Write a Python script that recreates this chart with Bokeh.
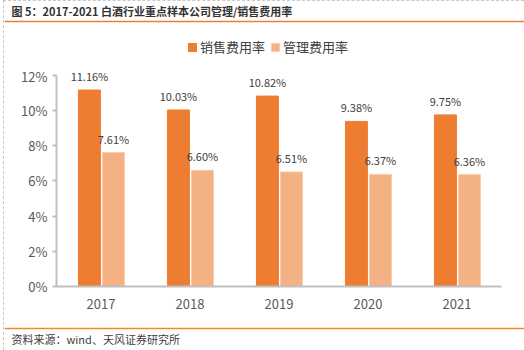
from bokeh.plotting import figure
from bokeh.layouts import column
from bokeh.models import (ColumnDataSource, FactorRange, Range1d, FixedTicker,
                          PrintfTickFormatter, LabelSet, Legend, LegendItem)
from bokeh.core.properties import value
from bokeh.transform import dodge
from bokeh.embed import file_html
from bokeh.resources import INLINE

years = ["2017", "2018", "2019", "2020", "2021"]
sales_rate = [11.16, 10.03, 10.82, 9.38, 9.75]
admin_rate = [7.61, 6.60, 6.51, 6.37, 6.36]
series_names = ["销售费用率", "管理费用率"]
y_ticks = [0, 2, 4, 6, 8, 10, 12]
title_text = "图 5：2017-2021 白酒行业重点样本公司管理/销售费用率"
source_text = "资料来源：wind、天风证券研究所"

ORANGE = "#ED7D31"
LIGHT = "#F4B183"
FONT = "Noto Sans CJK SC"
W = 520


def blank(h, y0, y1):
    f = figure(width=W, height=h, x_range=Range1d(4, 524), y_range=Range1d(y0, y1),
               output_backend="svg", toolbar_location=None, min_border=0,
               x_axis_location=None, y_axis_location=None, title=None,
               frame_align=False)
    f.grid.visible = False
    f.outline_line_color = None
    return f


# ---------- header: title, rule, legend ----------
top = blank(65, 66, 1)
top.text(x=[11], y=[10], text=[title_text], text_font=value(FONT),
         text_font_size="11px", text_font_style="bold", text_color="#333333",
         text_baseline="middle", text_align="left")
top.segment(x0=[4], y0=[21], x1=[524], y1=[21], line_color=ORANGE, line_width=1.5)
# hidden swatch renderers (outside the visible range) that feed the legend
d1 = top.vbar(x=[-1000], top=[-1000], width=1, fill_color=ORANGE, line_color=ORANGE)
d2 = top.vbar(x=[-1000], top=[-1000], width=1, fill_color=LIGHT, line_color="#F8CBAD")
legend = Legend(items=[LegendItem(label=series_names[0], renderers=[d1]),
                       LegendItem(label=series_names[1], renderers=[d2])],
                orientation="horizontal", location=(183, 10),
                border_line_color=None, background_fill_alpha=0,
                padding=0, margin=0, spacing=5, label_standoff=3,
                glyph_width=10, glyph_height=10, label_height=14,
                label_text_font=FONT, label_text_font_size="13px",
                label_text_color="#404040")
top.add_layout(legend, "center")

# ---------- main chart ----------
src = ColumnDataSource(dict(
    year=years,
    sales=sales_rate,
    admin=admin_rate,
    sales_lbl=["%.2f%%" % v for v in sales_rate],
    admin_lbl=["%.2f%%" % v for v in admin_rate],
))

p = figure(width=W, height=252, x_range=FactorRange(*years, range_padding=0),
           y_range=Range1d(0, 12.5), output_backend="svg", toolbar_location=None,
           min_border_left=52, min_border_right=23, min_border_top=0,
           min_border_bottom=32, title=None, frame_align=False)
p.outline_line_color = None
p.grid.visible = False

r1 = p.vbar(x=dodge("year", -0.13, range=p.x_range), top="sales", width=0.247,
            source=src, fill_color=ORANGE, line_color=ORANGE)
r2 = p.vbar(x=dodge("year", 0.14, range=p.x_range), top="admin", width=0.247,
            source=src, fill_color=LIGHT, line_color="#F8CBAD")

for fld, top_f, off in (("sales_lbl", "sales", -0.13), ("admin_lbl", "admin", 0.14)):
    p.add_layout(LabelSet(x=dodge("year", off, range=p.x_range), y=top_f, text=fld,
                          source=src, y_offset=6, text_align="center",
                          text_baseline="bottom", text_font=value(FONT),
                          text_font_size="11px", text_color="#404040"))

ya = p.yaxis[0]
ya.ticker = FixedTicker(ticks=y_ticks)
ya.formatter = PrintfTickFormatter(format="%d%%")
ya.bounds = (0, 12)
ya.axis_line_color = "#bfbfbf"
ya.axis_line_width = 2
ya.major_tick_line_color = "#bfbfbf"
ya.major_tick_line_width = 2
ya.major_tick_out = 4
ya.major_tick_in = 0
ya.minor_tick_line_color = None
ya.major_label_standoff = 5
ya.major_label_text_font = FONT
ya.major_label_text_font_size = "13px"
ya.major_label_text_color = "#595959"

xa = p.xaxis[0]
xa.axis_line_color = "#bfbfbf"
xa.axis_line_width = 2
xa.major_tick_line_color = None
xa.minor_tick_line_color = None
xa.major_label_standoff = 6
xa.major_label_text_font = FONT
xa.major_label_text_font_size = "13px"
xa.major_label_text_color = "#595959"

# ---------- footer ----------
bot = blank(32, 350, 318)
bot.segment(x0=[4], y0=[328], x1=[524], y1=[328], line_color="#F08A24", line_width=1.5)
bot.text(x=[11], y=[338], text=[source_text], text_font=value(FONT),
         text_font_size="11px", text_color="#404040",
         text_baseline="middle", text_align="left")

page = column(top, p, bot, spacing=0,
              styles={"margin-left": "3px", "border-left": "1px dashed #c8c8c8",
                      "border-top": "1px dashed #c8c8c8"})

open("out.html", "w").write(file_html(page, INLINE))
